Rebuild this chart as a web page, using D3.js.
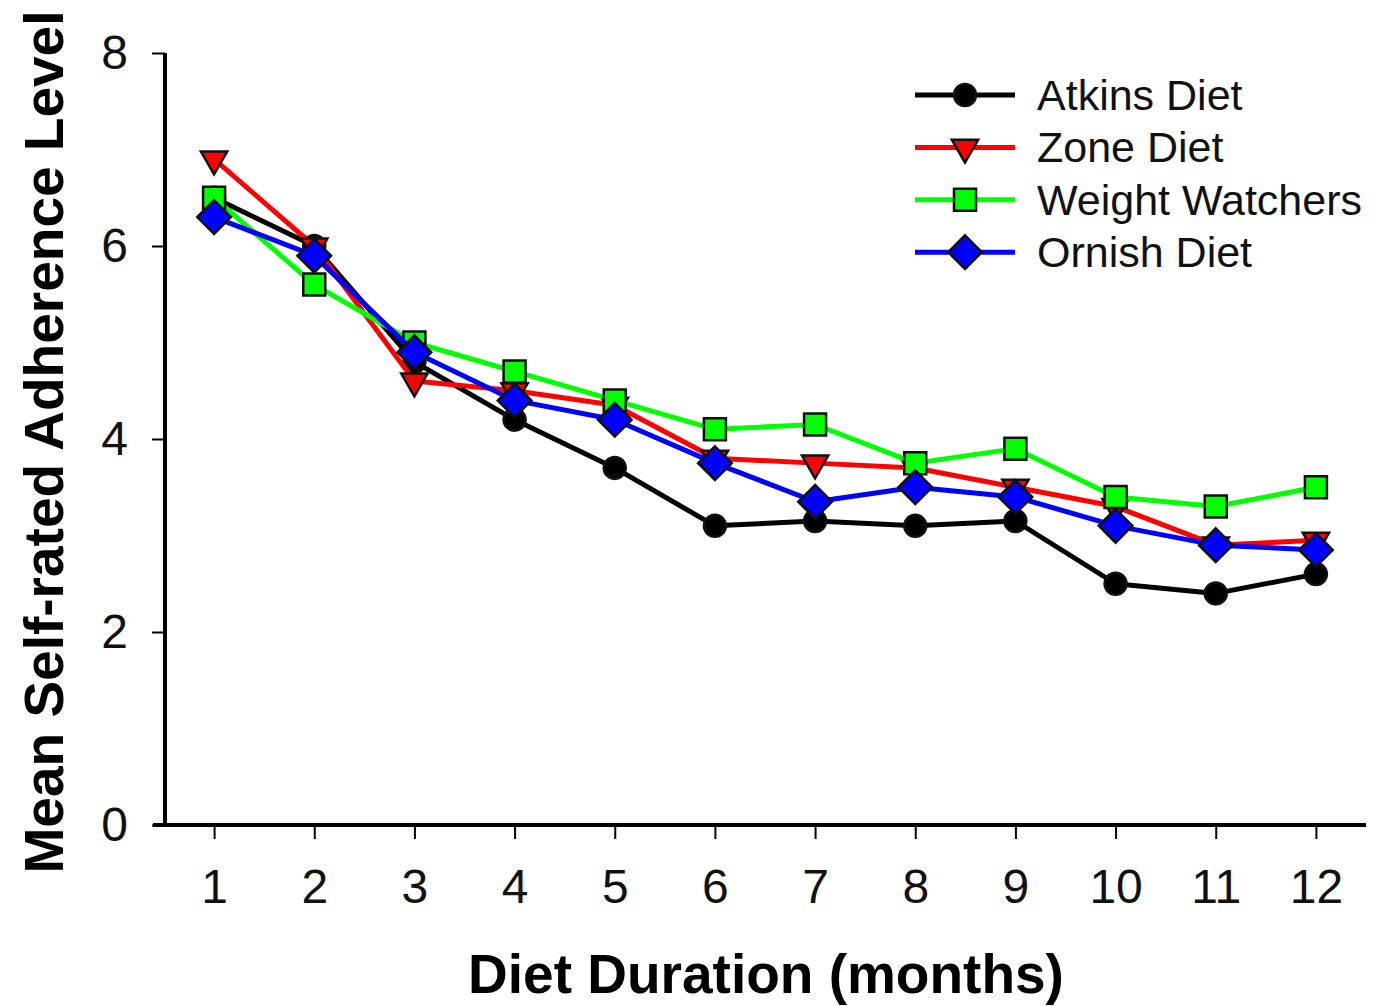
<!DOCTYPE html>
<html>
<head>
<meta charset="utf-8">
<script src="https://cdn.jsdelivr.net/npm/d3@7"></script>
<style>
  body { margin: 0; background: #fff; }
  svg text { font-family: "Liberation Sans", Arial, sans-serif; }
</style>
</head>
<body>
<svg id="chart" width="1397" height="1006"></svg>
<script>
// months on the x axis
const months = [1, 2, 3, 4, 5, 6, 7, 8, 9, 10, 11, 12];
const yTicks = [0, 2, 4, 6, 8];

// series values
const atkins = [6.5, 6.0, 4.8, 4.2, 3.7, 3.1, 3.15, 3.1, 3.15, 2.5, 2.4, 2.6];
const zone = [6.9, 6.0, 4.6, 4.5, 4.35, 3.8, 3.75, 3.7, 3.5, 3.3, 2.9, 2.95];
const weightWatchers = [6.5, 5.6, 5.0, 4.7, 4.4, 4.1, 4.15, 3.75, 3.9, 3.4, 3.3, 3.5];
const ornish = [6.3, 5.9, 4.9, 4.4, 4.2, 3.75, 3.35, 3.5, 3.4, 3.1, 2.9, 2.85];

const seriesNames = ["Atkins Diet", "Zone Diet", "Weight Watchers", "Ornish Diet"];
const seriesColors = ["#000000", "#ff0000", "#00ff00", "#0000ff"];
const seriesShapes = ["circle", "triangleDown", "square", "diamond"];
const seriesValues = [atkins, zone, weightWatchers, ornish];

const series = seriesNames.map((name, i) => ({
  name: name,
  color: seriesColors[i],
  shape: seriesShapes[i],
  values: seriesValues[i].map((v, j) => ({ month: months[j], value: v }))
}));

const svg = d3.select("#chart");
const plotLeft = 165, plotRight = 1366, plotTop = 53, plotBottom = 825;

// ticks land at 1 -> ~214, 12 -> ~1316
const x = d3.scaleLinear().domain([0.5, 12.5]).range([164, 1366]);
const y = d3.scaleLinear().domain([0, 8]).range([plotBottom, plotTop]);

// axes
const xAxis = svg.append("g")
  .attr("transform", `translate(0,${plotBottom})`)
  .call(d3.axisBottom(x).tickValues(months).tickSize(14).tickPadding(30).tickSizeOuter(0));
xAxis.select(".domain").attr("stroke-width", 4).attr("d", `M${plotLeft - 12},0H${plotRight}`);
xAxis.selectAll(".tick line").attr("stroke-width", 2);
xAxis.selectAll(".tick text").attr("font-size", 48).attr("fill", "#111");

const yAxis = svg.append("g")
  .attr("transform", `translate(${plotLeft},0)`)
  .call(d3.axisLeft(y).tickValues(yTicks).tickSize(13).tickPadding(24).tickSizeOuter(0));
yAxis.select(".domain").attr("stroke-width", 4).attr("d", `M0,${plotTop}V${plotBottom + 2}`);
yAxis.selectAll(".tick line").attr("stroke-width", 2);
yAxis.selectAll(".tick text").attr("font-size", 48).attr("fill", "#111");

// axis titles
svg.append("text")
  .attr("x", 766).attr("y", 993)
  .attr("text-anchor", "middle")
  .attr("font-size", 55).attr("font-weight", "bold")
  .text("Diet Duration (months)");

svg.append("text")
  .attr("transform", "translate(63,442) rotate(-90)")
  .attr("text-anchor", "middle")
  .attr("font-size", 55).attr("font-weight", "bold")
  .text("Mean Self-rated Adherence Level");

// marker shapes
const symbols = {
  circle: d3.symbol().type(d3.symbolCircle).size(Math.PI * 11 * 11),
  square: d3.symbol().type(d3.symbolSquare).size(22 * 22),
  diamond: d3.symbol().type(d3.symbolDiamond2).size(19 * 19 * 2),
  triangleDown: d3.symbol().type(d3.symbolTriangle).size(300)
};

function drawMarker(g, shape, color, cx, cy) {
  const p = g.append("path")
    .attr("d", symbols[shape]())
    .attr("fill", color)
    .attr("stroke", "#111")
    .attr("stroke-width", 2.5);
  if (shape === "triangleDown") p.attr("transform", `translate(${cx},${cy}) rotate(180)`);
  else p.attr("transform", `translate(${cx},${cy})`);
}

const line = d3.line().x(d => x(d.month)).y(d => y(d.value));

series.forEach(s => {
  const g = svg.append("g");
  g.append("path")
    .datum(s.values)
    .attr("d", line)
    .attr("fill", "none")
    .attr("stroke", s.color)
    .attr("stroke-width", 5)
    .attr("stroke-linejoin", "round");
  s.values.forEach(d => drawMarker(g, s.shape, s.color, x(d.month), y(d.value)));
});

// legend
const legend = svg.append("g");
series.forEach((s, i) => {
  const ly = 95 + i * 52.4;
  legend.append("line")
    .attr("x1", 915).attr("x2", 1015).attr("y1", ly).attr("y2", ly)
    .attr("stroke", s.color).attr("stroke-width", 5);
  drawMarker(legend, s.shape, s.color, 965, ly);
  legend.append("text")
    .attr("x", 1037).attr("y", ly + 15)
    .attr("font-size", 43).attr("fill", "#111")
    .text(s.name);
});
</script>
</body>
</html>
